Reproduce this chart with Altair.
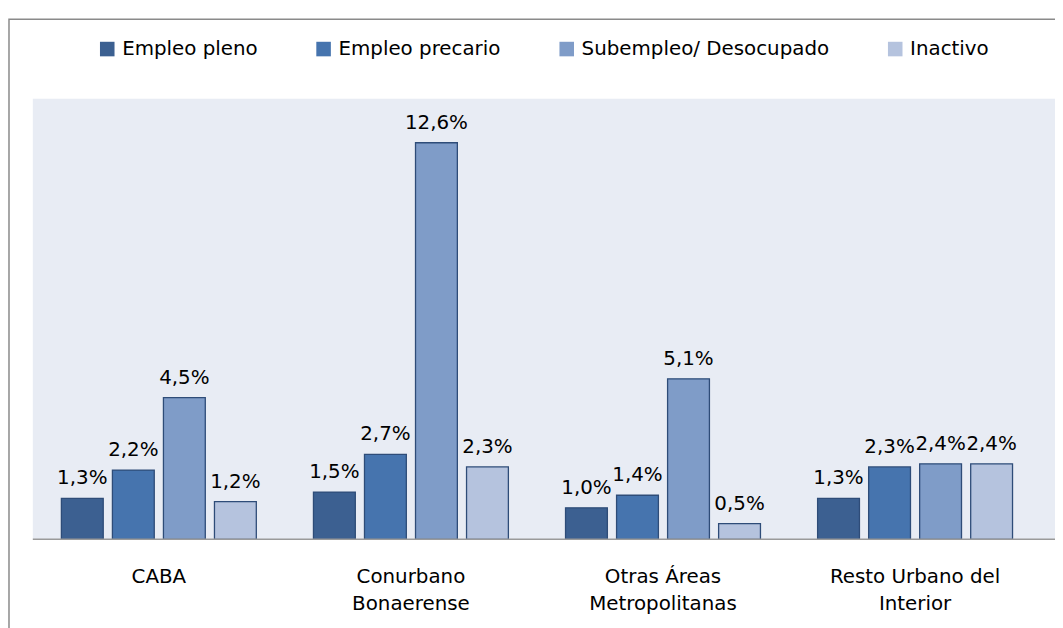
import altair as alt
import pandas as pd

regiones = ["CABA", "Conurbano|Bonaerense", "Otras Áreas|Metropolitanas", "Resto Urbano del|Interior"]
series = ["Empleo pleno", "Empleo precario", "Subempleo/ Desocupado", "Inactivo"]
empleo_pleno = [1.3, 1.5, 1.0, 1.3]
empleo_precario = [2.2, 2.7, 1.4, 2.3]
subempleo = [4.5, 12.6, 5.1, 2.4]
inactivo = [1.2, 2.3, 0.5, 2.4]
colores = ["#3C6091", "#4674AE", "#7F9CC8", "#B5C3DE"]

valores = [empleo_pleno, empleo_precario, subempleo, inactivo]
rows = []
for s, vals in zip(series, valores):
    for r, v in zip(regiones, vals):
        rows.append({"region": r, "serie": s, "valor": v,
                     "etiqueta": f"{v:.1f}%".replace(".", ",")})
df = pd.DataFrame(rows)

FONT = "DejaVu Sans"
W, H = 1030, 444

x_enc = alt.X("region:N", sort=regiones, title=None,
              scale=alt.Scale(range=[0, 1016], paddingInner=0, paddingOuter=0),
              axis=alt.Axis(domain=False, ticks=False, labelAngle=0,
                            labelFont=FONT, labelFontSize=20, labelColor="#000000",
                            labelPadding=28, labelLineHeight=27, labelLimit=0,
                            labelExpr="split(datum.value, '|')"))
xoff = alt.XOffset("serie:N", sort=series,
                   scale=alt.Scale(paddingInner=0.18, paddingOuter=0.56))
y_enc = alt.Y("valor:Q", scale=alt.Scale(domain=[0, 14], nice=False), axis=None)

base = alt.Chart(df).encode(x=x_enc, xOffset=xoff, y=y_enc)

bars = base.mark_bar(stroke="#2E4C78", strokeWidth=1.3).encode(
    color=alt.Color("serie:N", sort=series,
                    scale=alt.Scale(domain=series, range=colores),
                    legend=alt.Legend(title=None, orient="none", legendX=65, legendY=-60,
                                      direction="horizontal", columns=4,
                                      symbolType="square", symbolSize=215,
                                      symbolStrokeWidth=0, labelLimit=0,
                                      labelFont=FONT, labelFontSize=20,
                                      labelColor="#000000", columnPadding=56,
                                      labelOffset=5))
)
labels = base.mark_text(baseline="alphabetic", dy=-14, font=FONT, fontSize=20,
                        color="#000000").encode(text="etiqueta:N")

frame_df = pd.DataFrame({"k": [0]})
border = alt.Chart(frame_df).mark_rect(fillOpacity=0, stroke="#8A8A8A", strokeWidth=1.5).encode(
    x=alt.value(-24), x2=alt.value(1060), y=alt.value(-80), y2=alt.value(560))
baseline = alt.Chart(frame_df).mark_rule(color="#9A9A9A", strokeWidth=1.5).encode(
    x=alt.value(0), x2=alt.value(W), y=alt.value(H))

chart = alt.layer(border, bars, baseline, labels).properties(
    width=W, height=H,
    padding={"left": 25, "top": 89, "right": 0, "bottom": 87},
    autosize=alt.AutoSizeParams(type="none"),
).configure_view(fill="#E8ECF4", stroke=None)

chart.save("out.html", embed_options={"renderer": "svg", "actions": False})
